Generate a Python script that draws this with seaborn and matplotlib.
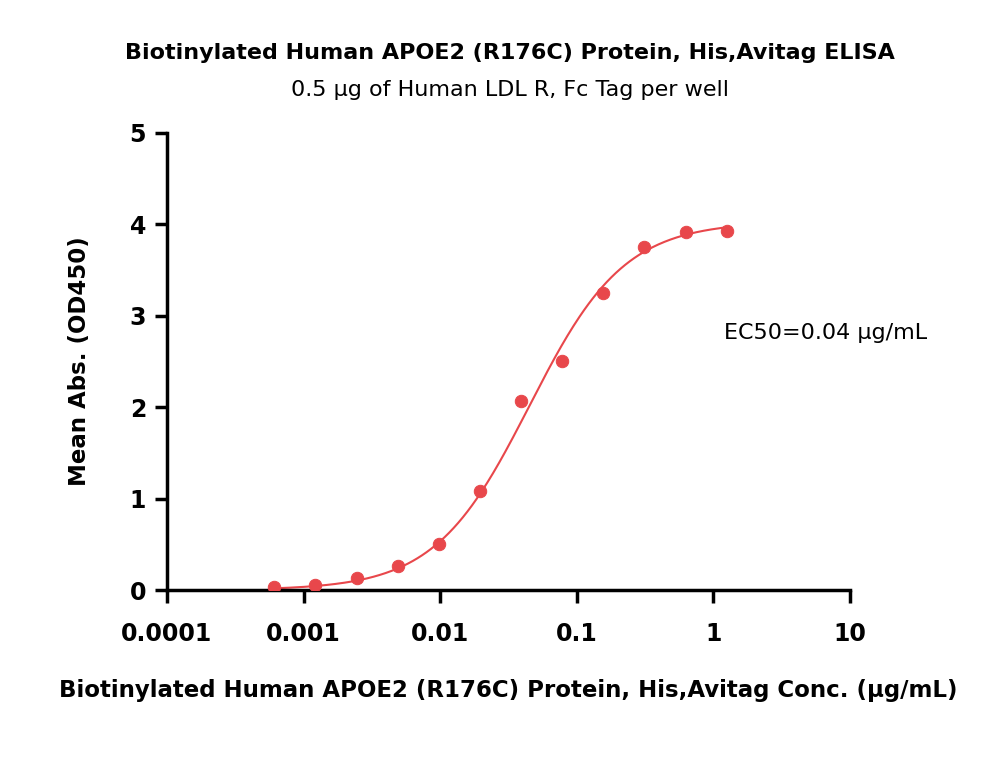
import numpy as np
import pandas as pd
import matplotlib
matplotlib.use("Agg")
import matplotlib.pyplot as plt
import seaborn as sns

# data
conc = [1.25, 0.625, 0.3125, 0.15625, 0.078125, 0.0390625, 0.01953, 0.009766, 0.004883, 0.002441, 0.001221, 0.000610]
od450 = [3.93, 3.92, 3.75, 3.25, 2.50, 2.07, 1.08, 0.50, 0.26, 0.13, 0.06, 0.03]
# 4PL fit parameters (bottom, top, ec50, hill)
fit_bottom, fit_top, fit_ec50, fit_hill = 0.0, 4.03, 0.045, 1.25

sns.set_style("ticks")
plt.rcParams['font.family'] = ['DejaVu Sans']
plt.rcParams['text.color'] = 'black'
plt.rcParams['axes.labelcolor'] = 'black'
plt.rcParams['xtick.color'] = 'black'
plt.rcParams['ytick.color'] = 'black'
plt.rcParams['axes.edgecolor'] = 'black'
red = "#e8474b"

df = pd.DataFrame({"conc": conc, "od": od450})
xs = np.logspace(np.log10(0.0006), np.log10(1.25), 300)
fit = pd.DataFrame({"conc": xs,
                    "od": fit_bottom + (fit_top - fit_bottom) / (1 + (fit_ec50 / xs) ** fit_hill)})

fig = plt.figure(figsize=(10, 7.82), dpi=100)
ax = fig.add_axes([0.167, 0.2455, 0.683, 0.5845])
sns.lineplot(data=fit, x="conc", y="od", color=red, lw=1.5, ax=ax)
sns.scatterplot(data=df, x="conc", y="od", color=red, s=80, edgecolor=red, zorder=3, ax=ax)
ax.set_xscale("log")
ax.set_xlim(1e-4, 10)
ax.set_ylim(0, 5)
ax.set_xticks([1e-4, 1e-3, 1e-2, 1e-1, 1, 10])
ax.set_xticklabels(["0.0001", "0.001", "0.01", "0.1", "1", "10"])
ax.minorticks_off()
ax.set_yticks(range(6))
ax.tick_params(axis="both", width=2.5, length=9, labelsize=17)
for lab in ax.get_xticklabels() + ax.get_yticklabels():
    lab.set_fontweight("bold")
ax.tick_params(axis="x", pad=14)
ax.tick_params(axis="y", pad=6)
for s in ["left", "bottom"]:
    ax.spines[s].set_linewidth(2.5)
sns.despine(ax=ax)
ax.set_xlabel("Biotinylated Human APOE2 (R176C) Protein, His,Avitag Conc. (μg/mL)",
              fontsize=16.5, fontweight="bold", labelpad=24)
ax.set_ylabel("Mean Abs. (OD450)", fontsize=16.5, fontweight="bold", labelpad=28)
ax.text(0.816, 0.55, "EC50=0.04 μg/mL", transform=ax.transAxes, fontsize=16)
fig.text(0.51, 0.925, "Biotinylated Human APOE2 (R176C) Protein, His,Avitag ELISA",
         ha="center", fontsize=16, fontweight="bold")
fig.text(0.51, 0.877, "0.5 μg of Human LDL R, Fc Tag per well", ha="center", fontsize=16)
fig.savefig("out.png", dpi=100)
